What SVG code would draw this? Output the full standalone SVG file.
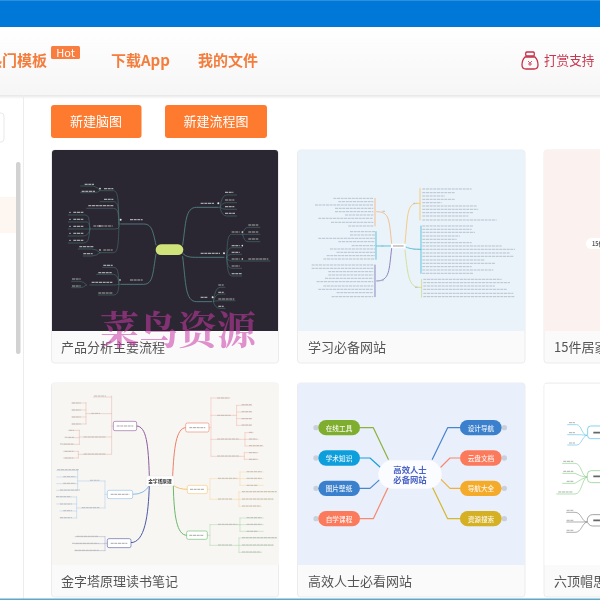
<svg xmlns="http://www.w3.org/2000/svg" width="600" height="600" viewBox="0 0 600 600">
<defs>
<linearGradient id="hdr" x1="0" y1="0" x2="0" y2="1"><stop offset="0" stop-color="#ffffff"/><stop offset="1" stop-color="#f6f6f6"/></linearGradient>
<linearGradient id="shd" x1="0" y1="0" x2="0" y2="1"><stop offset="0" stop-color="#e6e6e6"/><stop offset="1" stop-color="#ffffff"/></linearGradient>
<filter id="soft" filterUnits="userSpaceOnUse" x="-20" y="-20" width="640" height="640"><feGaussianBlur stdDeviation="0.35"/></filter>
<filter id="b1" x="-5%" y="-5%" width="110%" height="110%"><feGaussianBlur stdDeviation="1.500"/></filter>
<filter id="b2" x="-5%" y="-5%" width="110%" height="110%"><feGaussianBlur stdDeviation="1"/></filter>
<clipPath id="c3"><rect x="544" y="150" width="56" height="181"/></clipPath>
</defs>
<style>
text{font-family:"Noto Sans CJK SC","Liberation Sans",sans-serif}
.card{fill:#fafafa;stroke:#ececec;stroke-width:1}
.cap{font-size:13px;fill:#555}
.nav{font-size:15px;font-weight:700;fill:#f47d3c}
.btn{fill:#fd7a2e}
.btnt{font-size:13px;fill:#fff;text-anchor:middle}
.ln{fill:none;stroke-linecap:round;stroke-linejoin:round}
.pt{font-size:20px;font-weight:500;fill:#fff;text-anchor:middle;dominant-baseline:central;opacity:.9}
.pill{stroke:none}
.bar{fill:none;stroke-dasharray:9 2}
</style>
<rect x="-20" y="-20" width="640" height="640" fill="#fff"/>
<g filter="url(#soft)">
<g id="topbar"><rect x="-20" y="-20" width="640" height="47" fill="#0078d7"/><rect width="600" height="1" fill="#2f8fdf"/></g>
<g id="header">
<rect x="-20" y="27" width="640" height="68" fill="url(#hdr)"/>
<rect x="-20" y="95" width="640" height="4" fill="url(#shd)"/>
<text class="nav" x="-13" y="66">热门模板</text>
<rect x="51" y="46" width="29" height="13" rx="1.5" fill="#fa7d40"/>
<text x="65.500" y="56.500" font-size="11" fill="#fff" text-anchor="middle">Hot</text>
<text class="nav" x="111" y="66">下载App</text>
<text class="nav" x="198" y="66">我的文件</text>
<g id="reward-icon" fill="none" stroke="#c8324a" stroke-width="1.300"><path d="M525 57q-3 3-3 8q0 4 4 4h8q4 0 4-4q0-5-3-8z"/><path d="M526 56q-1-4 1-4h6q2 0 1 4z"/><path d="M528 61l2 2l2-2M530 63v3M528 64h4" stroke-width=".8"/></g>
<text x="544" y="65" font-size="12.600" fill="#c8384e">打赏支持</text>
</g>
<g id="sidebar">
<rect x="23" y="95" width="1" height="525" fill="#ececec"/>
<rect x="-6" y="113" width="10" height="29" rx="3" fill="#fff" stroke="#e8e8e8"/>
<rect x="-20" y="197" width="36" height="36" fill="#fdf6f1"/>
<rect x="16" y="162" width="4.500" height="192" rx="2" fill="#d2d2d2"/>
</g>
<g id="buttons">
<rect class="btn" x="51" y="105" width="90.500" height="33" rx="3"/>
<text class="btnt" x="96" y="126">新建脑图</text>
<rect class="btn" x="165" y="105" width="102" height="33" rx="3"/>
<text class="btnt" x="216" y="126">新建流程图</text>
</g>

<g id="card-1">
<rect class="card" x="51.500" y="150" width="227" height="213" rx="3"/>
<path d="M52 153q0-3 3-3h220q3 0 3 3v178H52z" fill="#2c2730"/>
<text class="cap" x="61" y="352">产品分析主要流程</text>
<g transform="translate(50,150) scale(.3333)" filter="url(#b2)">
<g class="ln" stroke="#4f8485" stroke-width="2.600">
<path d="M318 285C308 240 305 222 280 222H212M318 312C308 370 310 403 280 403H212M398 285C408 220 405 172 440 172H505M398 310C410 322 420 322 445 322H522M398 320C408 400 405 455 440 455H485"/>
</g>
<g class="ln" stroke="#47797a" stroke-width="1.600">
<path d="M207 222C205 150 205 122 190 122H150M207 222C205 170 205 155 190 155H150M207 222C205 190 205 175 190 175H110M207 222V230Q207 237 195 237H125M207 222C205 280 205 308 190 308H150M150 122Q145 112 130 108H92M150 122Q145 128 130 128H92"/>
<path d="M120 237C116 200 118 195 100 195H55M120 237C116 215 118 216 100 216H55M120 237Q116 237 100 237H55M120 237Q116 258 100 258H55M120 237C116 260 118 279 100 279H55M150 308Q140 297 125 297H85M150 308Q140 318 125 318H100"/>
<path d="M207 403C205 370 205 352 190 352H158M207 403Q205 373 190 373H140M207 403Q200 405 190 405H120M207 403C205 420 205 435 190 435H145M110 405Q100 394 90 394H65M110 405Q100 413 90 413H65"/>
<path d="M510 172Q515 135 530 135H560M510 172Q515 158 530 158H560M510 172Q515 178 530 178H560M510 172Q515 198 530 198H560"/>
<path d="M530 322C532 280 532 253 545 253H575M530 322Q532 293 545 293H575M530 322Q532 313 545 313H575M530 322Q532 333 545 333H575M530 322Q532 355 545 355H575M530 322Q532 378 545 378H575M578 253Q582 232 595 232H630M578 253H630M578 253Q582 275 595 275H630M578 333H660"/>
<path d="M490 455Q495 412 510 412H525M490 455Q495 432 510 432H525M490 455Q495 452 510 452H555M490 455Q495 475 510 475H525"/>
</g>
<rect x="317" y="283" width="83" height="32" rx="16" fill="#cfe37a"/>
<path d="M333 299h50" stroke="#6a7636" stroke-width="5" filter="url(#b1)"/>
<g class="bar" stroke="#d5dede" stroke-width="3.400" filter="url(#b1)" opacity=".7">
<path d="M240 209h38M162 116h28M162 148h28M115 167h75M130 228h58M160 300h28M104 103h28M95 124h40"/>
<path d="M70 187h30M70 208h30M70 229h30M70 250h30M70 271h30M88 290h44M100 311h28"/>
<path d="M240 390h38M160 346h28M145 368h40M125 397h62M145 429h44M66 387h26M66 408h26"/>
<path d="M452 160h40M525 127h25M525 150h28M525 170h28M525 190h30"/>
<path d="M452 310h58M545 246h24M595 225h30M595 246h30M595 267h30M545 287h24M545 307h24M545 327h24M595 327h60M545 348h24M545 371h30"/>
<path d="M452 442h22M505 405h16M505 427h16M505 447h48M505 469h16"/>
</g>
<g fill="#dfe8e8"><circle cx="212" cy="209" r="3"/><circle cx="150" cy="116" r="2.500"/><circle cx="150" cy="228" r="2.500"/><circle cx="150" cy="300" r="2.500"/><circle cx="210" cy="390" r="2.500"/><circle cx="505" cy="160" r="3"/><circle cx="522" cy="310" r="3"/><circle cx="488" cy="442" r="3"/><circle cx="577" cy="246" r="2.500"/><circle cx="577" cy="287" r="2.500"/><circle cx="577" cy="327" r="2.500"/><circle cx="60" cy="187" r="2"/><circle cx="60" cy="208" r="2"/><circle cx="60" cy="229" r="2"/><circle cx="60" cy="250" r="2"/><circle cx="60" cy="271" r="2"/></g>
</g>
</g>

<g id="card-2">
<rect class="card" x="297.500" y="150" width="227.500" height="213" rx="3"/>
<path d="M298 153q0-3 3-3h221q3 0 3 3v178H298z" fill="#eaf2fa"/>
<text class="cap" x="308" y="352">学习必备网站</text>
<g transform="translate(295,150) scale(.3333)">
<g filter="url(#b2)">
<g class="ln" stroke-width="2.500">
<path stroke="#f5c469" d="M330 280C338 200 335 160 365 160M375 115V210M365 160H375"/>
<path stroke="#45bcd8" d="M330 290Q345 298 372 298M378 228V370M372 298H378"/>
<path stroke="#cfdc8a" d="M330 300C338 370 340 412 372 412M380 388V442M372 412H380"/>
<path stroke="#f3b57a" d="M290 280C282 210 285 185 245 185M240 145V228"/>
<path stroke="#45bcd8" d="M290 288H245M243 245V328"/>
<path stroke="#7b6fb0" d="M290 295C282 360 285 393 245 393M240 345V440"/>
</g>
<rect x="288" y="281" width="44" height="14" rx="3" fill="#fff"/>
<path d="M294 288h32" stroke="#888" stroke-width="2.500"/>
<g class="bar" stroke="#aab6c0" stroke-width="2.400">
<path d="M382 117H530M382 128H480M382 138H450M382 148H480M382 158H440M382 168H545M382 178H550M382 188H535M382 198H520M382 210H605"/>
<path d="M382 228H535M382 238H530M382 247H540M382 258H495M382 268H485M382 278H530M382 288H620M382 298H660M382 309H645M382 319H655M382 330H570M382 340H600M382 350H530M382 360H595M382 370H535"/>
<path d="M385 388H620M385 398H645M385 408H600M385 418H635M385 430H655M385 440H660"/>
<path d="M115 145H235M130 155H235M60 165H235M120 175H235M120 185H235M150 195H235M70 205H235M108 217H235M160 228H235"/>
<path d="M165 245H240M165 255H240M70 265H240M130 275H240M170 287H240M105 297H240M125 307H240M95 317H240M85 327H240"/>
<path d="M50 345H235M50 355H235M100 365H235M100 375H235M90 385H235M65 395H235M85 408H235M70 418H235M125 428H235M110 440H235"/>
<path d="M355 298h16M262 184h8M258 288h8M250 392h16M355 160h6M360 412h8"/>
</g>
</g>
</g>
</g>

<g id="card-3">
<rect class="card" x="544" y="150" width="70" height="213" rx="3"/>
<path d="M544 153q0-3 3-3h53v181h-56z" fill="#fbf1ee"/>
<text class="cap" x="554" y="352">15件居家</text>
<g clip-path="url(#c3)">
<rect x="586" y="238" width="40" height="11" rx="5.500" fill="#fff"/>
<text x="592" y="246" font-size="5.500" font-weight="700" fill="#555">15件</text>
</g>
</g>

<g id="card-4">
<rect class="card" x="51.500" y="383" width="227" height="214" rx="3"/>
<path d="M52 386q0-3 3-3h221q3 0 3 3v179H52z" fill="#f8f6f3"/>
<text class="cap" x="61" y="586">金字塔原理读书笔记</text>
<g transform="translate(50,382) scale(.3333)">
<g filter="url(#b2)">
<g class="ln" stroke-width="3">
<path stroke="#8a5c9c" d="M298 282C295 190 290 132 260 132"/>
<path stroke="#8abbe6" d="M298 310Q285 337 248 337"/>
<path stroke="#4a58a4" d="M298 310C295 400 285 482 243 482"/>
<path stroke="#ea7f66" d="M368 282C372 200 378 137 407 137"/>
<path stroke="#f2c670" d="M370 310Q385 322 412 322"/>
<path stroke="#66b866" d="M370 312C372 400 380 460 410 460"/>
</g>
<g class="ln" stroke-width="1.600">
<path stroke="#e0b8a8" d="M190 132H185M185 42V215M185 45H130M185 95H120M185 165H100M185 217H100M108 62V126M120 95H108M108 63H65M108 84H65M108 105H65M108 126H65M88 145V187M100 165H88M88 145H55M88 167H55M88 187H40M85 208V228M100 217H85M85 208H40M85 228H40"/>
<path stroke="#a8cce8" d="M172 337H165M165 297V378M165 297H120M165 378H95M83 265V325M120 297H83M83 265H20M83 285H20M83 305H20M83 325H20M80 345V408M95 378H80M80 345H20M80 366H20M80 387H30M80 408H30"/>
<path stroke="#a6acd0" d="M172 484H165M165 464V506M165 464H75M165 485H75M165 506H75"/>
<path stroke="#f0b8a8" d="M477 137H483M483 48V222M483 48H540M483 100H550M483 172H570M483 223H570M560 70V130M550 100H560M560 70H605M560 90H605M560 110H605M560 130H605M585 152V192M570 172H585M585 152H610M585 172H625M585 192H640M583 212V232M570 223H583M583 212H625M583 232H625"/>
<path stroke="#f5d8a0" d="M472 322H480M480 290V352M480 290H565M480 352H560M570 270V310M565 290H570M570 270H640M570 290H640M570 310H640M567 330V373M560 352H567M567 330H680M567 352H670M567 373H635"/>
<path stroke="#a8d8a8" d="M472 460H480M480 428V490M480 428H565M480 490H560M570 408V448M565 428H570M570 408H640M570 428H640M570 448H640M567 468V511M560 490H567M567 468H680M567 490H670M567 511H635"/>
</g>
<g class="bar" stroke="#b4b2ae" stroke-width="2.400">
<path d="M132 42h36M66 63h26M66 84h26M66 105h26M66 126h26M124 94h26M102 165h64M102 216h64M58 145h14M44 166h28M30 186h40M44 208h26M44 228h26"/>
<path d="M120 295h28M22 263h66M40 284h36M40 304h36M30 324h60M18 344h46M30 366h36M40 386h26M30 407h36M96 377h52M80 463h66M66 484h80M74 505h72"/>
<path d="M502 48h36M502 100h40M502 171h66M502 222h66M575 68h30M575 89h30M575 110h30M575 129h30M597 151h12M597 171h24M597 191h40M597 212h24M597 232h24"/>
<path d="M504 289h58M504 351h44M590 269h46M590 289h46M590 310h34M576 329h104M576 351h94M576 372h56"/>
<path d="M504 427h58M504 489h44M590 407h46M590 427h46M590 448h34M576 467h104M576 489h94M576 510h56"/>
</g>
<g fill="#fff" stroke-width="1.800">
<rect x="190" y="118" width="70" height="28" rx="5" stroke="#8a5c9c"/>
<rect x="172" y="325" width="76" height="25" rx="5" stroke="#8abbe6"/>
<rect x="172" y="470" width="71" height="27" rx="5" stroke="#4a58a4"/>
<rect x="407" y="123" width="70" height="27" rx="5" stroke="#ea7f66"/>
<rect x="412" y="310" width="60" height="25" rx="5" stroke="#f2c670"/>
<rect x="410" y="447" width="62" height="25" rx="5" stroke="#66b866"/>
</g>
<path class="bar" d="M200 132h50M182 337h56M182 484h50M418 137h48M420 322h44M418 460h44" stroke="#a8a8a8" stroke-width="3"/>
</g>
<rect x="288" y="282" width="84" height="30" rx="4" fill="#fff" stroke="#e5e5e5" stroke-width="1.500"/>
<text x="330" y="302" font-size="14" font-weight="700" fill="#333" text-anchor="middle">金字塔原理</text>
</g>
</g>

<g id="card-5">
<rect class="card" x="297.500" y="383" width="227.500" height="214" rx="3"/>
<path d="M298 386q0-3 3-3h221q3 0 3 3v179H298z" fill="#e9effb"/>
<text class="cap" x="308" y="586">高效人士必看网站</text>
<g transform="translate(295,382) scale(.3333)">
<g id="c5-connectors" class="ln" stroke-width="3.600">
<path stroke="#8cb23c" d="M195 137H235L280 232"/>
<path stroke="#1aa0dc" d="M195 228H225L255 255"/>
<path stroke="#4a86cc" d="M195 319H225L255 292"/>
<path stroke="#f58a70" d="M195 410H235L280 315"/>
<path stroke="#4a86cc" d="M495 137H458L412 232"/>
<path stroke="#f58a70" d="M495 228H465L438 255"/>
<path stroke="#f0b040" d="M495 319H465L438 292"/>
<path stroke="#d6b82e" d="M495 410H458L412 315"/>
</g>
<g fill="#c9d0da"><circle cx="63" cy="137" r="8"/><circle cx="63" cy="228" r="8"/><circle cx="63" cy="319" r="8"/><circle cx="63" cy="410" r="8"/><circle cx="628" cy="137" r="8"/><circle cx="628" cy="228" r="8"/><circle cx="628" cy="319" r="8"/><circle cx="628" cy="410" r="8"/></g>
<g id="c5-center"><rect x="250" y="235" width="190" height="85" rx="42" fill="#fbfcff"/>
<text x="345" y="262" font-size="25" font-weight="700" fill="#4a62c4" text-anchor="middle" dominant-baseline="central">高效人士</text>
<text x="345" y="292" font-size="25" font-weight="700" fill="#4a62c4" text-anchor="middle" dominant-baseline="central">必备网站</text></g>
<g id="c5-n1"><rect class="pill" x="70" y="114" width="125" height="46" rx="23" fill="#7fae2e"/><text class="pt" x="132" y="137">在线工具</text></g>
<g id="c5-n2"><rect class="pill" x="70" y="205" width="125" height="46" rx="23" fill="#0f9fdc"/><text class="pt" x="132" y="228">学术知识</text></g>
<g id="c5-n3"><rect class="pill" x="70" y="296" width="125" height="46" rx="23" fill="#3a80cc"/><text class="pt" x="132" y="319">图片壁纸</text></g>
<g id="c5-n4"><rect class="pill" x="70" y="387" width="125" height="46" rx="23" fill="#fb7a5c"/><text class="pt" x="132" y="410">自学课程</text></g>
<g id="c5-n5"><rect class="pill" x="495" y="114" width="125" height="46" rx="23" fill="#3a80cc"/><text class="pt" x="558" y="137">设计导航</text></g>
<g id="c5-n6"><rect class="pill" x="495" y="205" width="125" height="46" rx="23" fill="#fb7a5c"/><text class="pt" x="558" y="228">云盘文档</text></g>
<g id="c5-n7"><rect class="pill" x="495" y="296" width="125" height="46" rx="23" fill="#f5ab2c"/><text class="pt" x="558" y="319">导航大全</text></g>
<g id="c5-n8"><rect class="pill" x="495" y="387" width="125" height="46" rx="23" fill="#d4b020"/><text class="pt" x="558" y="410">资源搜索</text></g>
</g>
</g>

<g id="card-6">
<rect class="card" x="544" y="383" width="76" height="214" rx="3"/>
<rect x="544.500" y="384" width="76" height="181" fill="#fff"/>
<text class="cap" x="554" y="586">六顶帽思</text>
<g transform="translate(295,382) scale(.3333)">
<g filter="url(#b2)">
<g class="ln" stroke-width="2">
<path stroke="#6cc4e4" d="M875 160C860 160 860 128 845 128H818M875 160Q860 158 845 158H818M875 160C860 165 860 189 845 189H818"/>
<path stroke="#8ed08e" d="M875 285C860 285 860 244 840 244H803M875 285Q860 285 840 274H803M875 285Q860 290 840 304H803M875 285C860 295 860 336 840 336H785"/>
<path stroke="#888" d="M875 420C860 420 860 391 840 391H815M875 420H815M875 420C860 425 860 451 840 451H815"/>
</g>
<rect x="878" y="132" width="60" height="38" rx="9" fill="#fff" stroke="#4fbce0" stroke-width="2"/>
<rect x="877" y="266" width="60" height="36" rx="12" fill="#fff" stroke="#7cc87c" stroke-width="2"/>
<rect x="877" y="398" width="60" height="34" rx="16" fill="#fff" stroke="#777" stroke-width="2"/>
<path d="M895 152h20M895 283h20M895 415h20" stroke="#666" stroke-width="5"/>
<g class="bar" stroke="#aaa" stroke-width="2.800"><path d="M822 122h18M822 152h18M822 183h18M805 238h30M805 268h30M815 298h20M790 330h44M815 385h20M815 415h20M815 445h20"/></g>
</g>
</g>
</g>

<g id="watermark"><text x="100" y="344" font-size="39" font-weight="700" fill="#c838a8" opacity=".55" style="font-family:'Noto Serif CJK SC','Liberation Serif','Noto Sans CJK SC',serif">菜鸟资源</text></g>
<rect id="bottom-line" x="-20" y="598.500" width="640" height="21.500" fill="#5fa8c8"/>
</g>
</svg>
